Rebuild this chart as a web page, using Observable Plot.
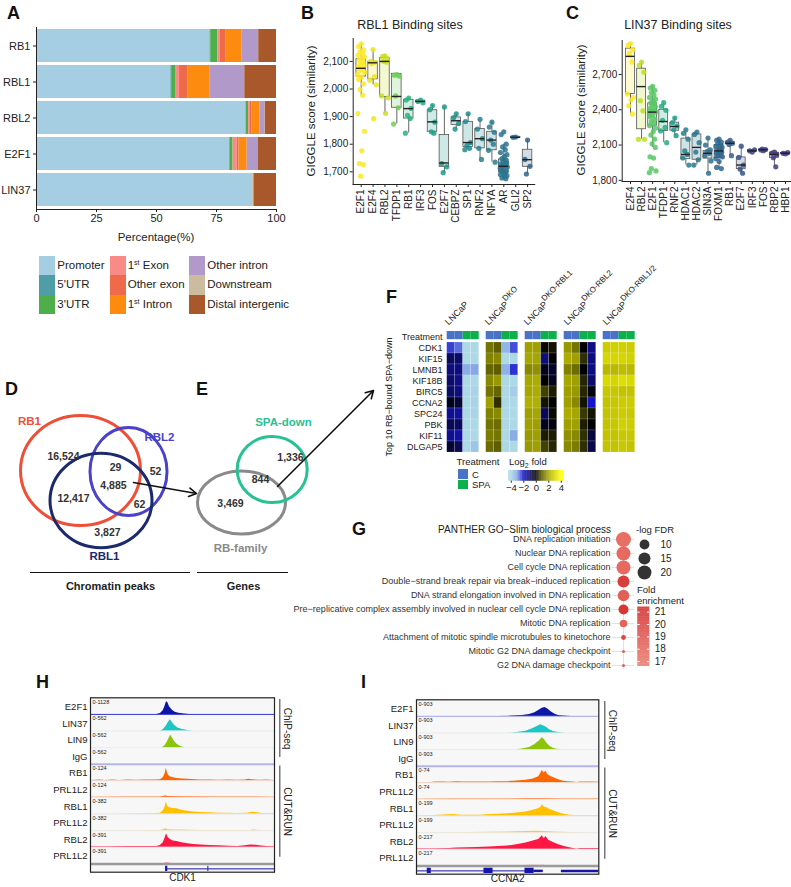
<!DOCTYPE html>
<html><head><meta charset="utf-8">
<script src="https://cdn.jsdelivr.net/npm/d3@7"></script>
<script src="https://cdn.jsdelivr.net/npm/@observablehq/plot@0.6"></script>
<style>
body{margin:0;background:#fff}
#fig{position:relative;width:791px;height:887px;overflow:hidden;font-family:"Liberation Sans",Arial,sans-serif;color:#222;background:#fff}
</style></head><body><div id="fig"></div>
<script>
// ---------------- DATA ----------------
// Panel A
const aSamples = ["RB1","RBL1","RBL2","E2F1","LIN37"];
const aFeatures = ["Promoter","5'UTR","3'UTR","1st Exon","Other exon","1st Intron","Other intron","Downstream","Distal intergenic"];
const pctRB1   = [72.3,0.3,3.0,0.9,2.5,6.7,6.9,0.0,7.4];
const pctRBL1  = [56.0,0.3,1.9,1.4,3.4,9.4,14.4,0.0,13.2];
const pctRBL2  = [87.3,0.2,0.9,0.5,0.8,3.3,2.2,0.1,4.7];
const pctE2F1  = [80.5,0.3,1.1,1.7,0.8,3.4,4.6,0.0,7.6];
const pctLIN37 = [90.3,0.0,0.0,0.0,0.0,0.4,0.0,0.0,9.3];
const aTicks = [0,25,50,75,100];

// Panel B
const bCats = ["E2F1","E2F4","RBL2","TFDP1","RB1","IRF3","FOS","E2F7","CEBPZ","SP1","RNF2","NFYA","AR","GLI2","SP2"];
const bPoints = [
  [2164,2154,2142,2134,2128,2122,2116,2110,2106,2098,2092,2086,2080,2074,2068,2061,2053,2043,2034,2019,1998,1977,1911,1847,1776,1730,1726,1684],
  [2143,2100,2097,2092,2045,2032,2015,1893],
  [2120,2117,2110,2100,2097,1975,1968,1912],
  [2052,2050,2047,1975,1932,1873],
  [1967,1960,1930,1905,1893,1840],
  [1960,1955,1950],
  [1940,1925,1880,1845,1840],
  [1935,1730,1718,1697],
  [1910,1896,1875,1855],
  [1910,1882,1806,1795,1785,1780],
  [1890,1855,1820,1785,1745],
  [1880,1862,1843,1815,1800,1778,1735],
  [1845,1835,1800,1790,1780,1770,1762,1755,1748,1742,1738,1732,1728,1724,1720,1717,1713,1710,1706,1702,1698,1694,1690,1686,1682,1678,1675],
  [1826,1825],
  [1815,1745,1720,1692]
];
const bQ1  = [2045,2035,1971,1932,1893,1952,1845,1718,1870,1790,1785,1778,1697,1823,1718];
const bMed = [2075,2095,2100,1973,1929,1955,1881,1732,1885,1806,1820,1815,1720,1825,1744];
const bQ3  = [2108,2099,2113,2055,1961,1958,1923,1833,1897,1881,1855,1845,1745,1827,1780];
const bLo  = [1977,2015,1912,1873,1840,1950,1840,1697,1855,1780,1745,1735,1675,1825,1692];
const bHi  = [2164,2143,2120,2052,1967,1960,1940,1935,1910,1910,1890,1880,1800,1826,1815];
const bTicks = [1700,1800,1900,2000,2100];

// Panel C
const cCats = ["E2F4","RBL2","E2F1","TFDP1","RNF2","HDAC1","HDAC2","SIN3A","FOXM1","RB1","E2F7","IRF3","FOS","RBP2","HBP1"];
const cPoints = [
  [2963,2949,2911,2877,2806,2534,2506,2483,2434,2363],
  [2806,2777,2720,2477,2391,2149,2149],
  [2600,2585,2565,2545,2525,2505,2490,2475,2460,2450,2440,2425,2410,2400,2390,2380,2370,2355,2340,2320,2300,2280,2265,2245,2215,2185,2150,2110,2080,2000,1990,1900,1880,1865],
  [2460,2430,2395,2310,2250,2220,2120],
  [2330,2290,2262,2230,2180],
  [2230,2200,2150,2050,2020,1990,1930],
  [2210,2190,2120,2040,1975,1930],
  [2160,2100,2060,2045,2030,2010,1965,1860],
  [2150,2140,2125,2110,2100,2090,2080,2070,2060,2050,2045,2040,2030,2020,2010,2000,1985,1960,1910,1900],
  [2140,2125,2115,2105,2010],
  [2090,1995,1930,1895,1860],
  [2040,2050,2060],
  [2052,2058,2062,2066],
  [2040,2032,2020,1992,1915],
  [2025,2030,2035]
];
const cQ1  = [2534,2234,2265,2220,2222,1980,1975,1985,1990,2105,1895,2045,2055,1990,2027];
const cMed = [2854,2597,2380,2300,2258,2020,2080,2030,2050,2115,1930,2050,2060,2020,2030];
const cQ3  = [2920,2749,2455,2400,2290,2155,2190,2050,2100,2128,1995,2058,2063,2035,2033];
const cLo  = [2363,2149,2080,2120,2180,1930,1930,1860,1900,2010,1860,2040,2052,1915,2025];
const cHi  = [2963,2806,2600,2460,2330,2230,2210,2160,2150,2140,2090,2060,2066,2040,2035];
const cTicks = [1800,2100,2400,2700];

// Panel D / E (Venn)
const dSets = ["RB1","RBL2","RBL1"];
const dCounts = [16524,29,52,4885,12417,62,3827];
const eSets = ["RB-family","SPA-down"];
const eCounts = [3469,844,1336];
const deCaptions = ["Chromatin peaks","Genes"];

// Panel F (heatmap, log2 fold; columns C, C, SPA, SPA)
const fGroups = ["LNCaP","DKO","DKO-RBL1","DKO-RBL2","DKO-RBL1/2"];
const fGroupSup = ["","DKO","DKO-RBL1","DKO-RBL2","DKO-RBL1/2"];
const fGenes = ["CDK1","KIF15","LMNB1","KIF18B","BIRC5","CCNA2","SPC24","PBK","KIF11","DLGAP5"];
const fCols = ["C1","C2","SPA1","SPA2"];
const fTreat = ["C","C","SPA","SPA"];
const heatLNCaP = [[-2.3,-2.6,-4,-4],[-0.9,-1.0,-4,-4],[-1.2,-1.2,-3.1,-3.0],[-1.0,-1.3,-4,-4],[-1.0,-1.2,-4,-3.9],[-0.3,-0.5,-4,-3.9],[-1.4,-1.5,-4,-3.9],[-0.8,-0.9,-4,-4],[-1.4,-1.6,-4,-4],[-0.5,-0.8,-4,-3.6]];
const heatDKO = [[1.3,1.0,-3.3,-2.4],[1.5,1.6,-4,-4],[1.1,1.0,-3.2,-2.2],[1.6,1.8,-4,-4],[1.3,1.1,-4,-3.8],[1.9,0.5,-4,-4],[1.5,1.6,-4,-4],[1.3,1.2,-4,-4],[1.4,1.3,-4,-3.1],[1.2,1.0,-4,-4]];
const heatDKO_RBL1 = [[1.9,1.9,0.1,0.2],[2.0,2.0,-1.2,0],[1.6,1.7,-0.3,-0.4],[2.0,2.1,0,-0.3],[2.0,2.1,0.7,0.3],[2.2,2.2,0.2,0],[1.9,2.0,-0.8,0.1],[1.9,1.9,-0.3,-0.2],[1.8,1.9,0.3,0.3],[1.8,1.9,0.7,0.4]];
const heatDKO_RBL2 = [[1.8,1.3,0,-1.3],[2.1,1.9,0.5,-1.2],[1.5,1.2,0,-1.2],[2.0,1.9,0.4,-1.0],[1.9,1.8,0.4,-0.2],[1.9,1.6,0.2,-2.0],[2.1,2.0,0.6,0.2],[1.9,1.9,0.3,0],[1.7,1.6,0.5,-0.6],[1.6,1.4,0.5,-0.7]];
const heatDKO_RBL12 = [[2.8,2.9,2.9,2.8],[3.0,3.0,3.0,2.9],[2.4,2.4,2.5,2.4],[3.1,3.0,3.2,3.1],[2.7,2.7,2.6,2.6],[2.6,2.7,2.8,2.8],[2.6,2.7,2.8,2.7],[2.6,2.7,2.9,2.8],[2.6,2.6,2.7,2.7],[2.6,2.6,2.7,2.6]];
const fLegendTicks = [-4,-2,0,2,4];

// Panel G
const gTitle = "PANTHER GO\u2212Slim biological process";
const gTerms = ["DNA replication initiation","Nuclear DNA replication","Cell cycle DNA replication",
  "Double\u2212strand break repair via break\u2212induced replication","DNA strand elongation involved in DNA replication",
  "Pre\u2212replicative complex assembly involved in nuclear cell cycle DNA replication","Mitotic DNA replication",
  "Attachment of mitotic spindle microtubules to kinetochore","Mitotic G2 DNA damage checkpoint","G2 DNA damage checkpoint"];
const gNegLogFDR = [23.4,20.4,20.4,15,14,10.4,6,2.4,0.95,0.95];
const gFold = [17.3,17.6,17.6,20.2,18.2,20.6,18.0,19.6,18.3,18.3];
const gSizeBreaks = [10,15,20];
const gFoldTicks = [17,18,19,20,21];

// Panels H / I (genome tracks, [position %, relative signal])
const trackNames = ["E2F1","LIN37","LIN9","IgG","RB1","PRL1L2","RBL1","PRL1L2","RBL2","PRL1L2"];
const hRanges = ["0-1128","0-562","0-562","0-562","0-124","0-124","0-382","0-382","0-391","0-391"];
const iRanges = ["0-903","0-903","0-903","0-903","0-74","0-74","0-199","0-199","0-217","0-217"];
const assays = [{label:"ChIP-seq",first:0,last:3},{label:"CUT&RUN",first:4,last:9}];
const hGene = "CDK1", iGene = "CCNA2";
const hE2F1 = [[0,0],[36,0],[38,0.06],[39.5,0.25],[40.5,0.55],[41.3,0.85],[42,0.8],[43,0.5],[44.5,0.28],[46,0.14],[48,0.07],[51,0.03],[54,0],[100,0]];
const hLIN37 = [[0,0],[38,0],[39.5,0.08],[41,0.3],[42.5,0.6],[43.3,0.75],[44.2,0.62],[45.5,0.4],[47.5,0.2],[50,0.1],[53,0.04],[56,0],[100,0]];
const hLIN9 = [[0,0],[39,0],[40.5,0.12],[41.8,0.4],[43,0.7],[43.6,0.82],[44.4,0.68],[45.5,0.45],[47,0.22],[49,0.08],[51,0],[100,0]];
const hIgG = [[0,0],[100,0]];
const hRB1 = [[0,0.03],[5,0.05],[8,0.02],[12,0.05],[16,0.03],[20,0.05],[25,0.04],[30,0.06],[35,0.05],[38,0.08],[39.5,0.2],[40.5,0.45],[41.2,0.85],[41.8,0.55],[42.5,0.35],[43.5,0.25],[45,0.2],[47,0.15],[50,0.12],[53,0.1],[57,0.08],[60,0.06],[65,0.05],[70,0.04],[75,0.05],[80,0.04],[84,0.05],[86,0.1],[88,0.07],[92,0.04],[96,0.05],[100,0.03]];
const hPRL1 = [[0,0.02],[20,0.03],[38,0.03],[40,0.08],[41,0.12],[42,0.06],[50,0.04],[70,0.03],[100,0.02]];
const hRBL1 = [[0,0.01],[20,0.02],[35,0.03],[38,0.06],[39.5,0.2],[40.5,0.45],[41.2,0.8],[42,0.5],[43,0.42],[45,0.38],[47,0.35],[49,0.28],[52,0.2],[56,0.14],[60,0.1],[65,0.08],[70,0.06],[75,0.05],[80,0.04],[85,0.06],[88,0.12],[90,0.1],[93,0.04],[100,0.03]];
const hPRL2 = [[0,0],[38,0.02],[40,0.08],[41,0.15],[42,0.07],[45,0.05],[50,0.04],[60,0.02],[87,0.02],[89,0.06],[91,0.02],[100,0]];
const hRBL2 = [[0,0.03],[10,0.04],[20,0.05],[30,0.05],[36,0.06],[38,0.12],[39.5,0.3],[40.5,0.6],[41.3,0.9],[42.2,0.65],[43.5,0.5],[45,0.42],[47,0.38],[49,0.32],[52,0.25],[56,0.18],[60,0.15],[65,0.12],[70,0.1],[75,0.07],[80,0.06],[84,0.1],[87,0.15],[90,0.14],[93,0.08],[96,0.05],[100,0.04]];
const hPRL3 = [[0,0],[40,0],[40.5,0.06],[42,0.08],[43.5,0.05],[44,0],[100,0]];
const iE2F1 = [[0,0],[45,0],[52,0.02],[58,0.06],[62,0.12],[65,0.25],[67,0.4],[69,0.55],[70.5,0.6],[72,0.5],[74,0.3],[76,0.15],[78,0.06],[81,0.02],[85,0],[100,0]];
const iLIN37 = [[0,0],[50,0],[55,0.04],[60,0.12],[63,0.25],[66,0.42],[68,0.55],[69,0.52],[71,0.4],[73,0.22],[75,0.1],[78,0.03],[82,0],[100,0]];
const iLIN9 = [[0,0],[55,0],[58,0.04],[62,0.15],[65,0.35],[67.5,0.6],[69,0.8],[70,0.7],[71.5,0.45],[73,0.25],[75,0.1],[77,0.02],[80,0],[100,0]];
const iIgG = [[0,0],[100,0]];
const iRB1 = [[0,0.02],[5,0.03],[8,0.02],[10,0.05],[15,0.06],[18,0.04],[22,0.08],[26,0.05],[30,0.06],[35,0.05],[40,0.06],[45,0.07],[50,0.08],[55,0.12],[60,0.18],[64,0.25],[67,0.4],[68,0.6],[69,0.85],[70,0.65],[71,0.8],[72,0.55],[74,0.4],[76,0.3],[78,0.2],[80,0.12],[83,0.08],[86,0.05],[88,0.02],[90,0.06],[94,0.05],[97,0.06],[100,0.04]];
const iPRL1 = [[0,0.02],[20,0.03],[40,0.03],[60,0.04],[70,0.05],[80,0.03],[100,0.03]];
const iRBL1 = [[0,0.02],[10,0.04],[20,0.1],[25,0.06],[30,0.05],[35,0.06],[40,0.1],[45,0.12],[50,0.15],[55,0.2],[60,0.28],[63,0.35],[66,0.45],[68,0.55],[69,0.75],[70,0.6],[71.5,0.55],[73,0.45],[75,0.35],[78,0.22],[81,0.12],[84,0.06],[88,0.04],[95,0.04],[100,0.03]];
const iPRL2 = [[0,0],[30,0.01],[50,0.04],[60,0.08],[65,0.1],[70,0.08],[75,0.04],[85,0.01],[100,0]];
const iRBL2 = [[0,0.03],[10,0.04],[18,0.06],[22,0.08],[28,0.1],[33,0.12],[40,0.15],[45,0.18],[50,0.22],[55,0.3],[60,0.42],[64,0.55],[67,0.65],[69,0.9],[70,0.7],[71,0.85],[72.5,0.6],[75,0.45],[78,0.3],[81,0.18],[84,0.1],[86,0.05],[88,0.02],[90,0.06],[95,0.06],[100,0.05]];
const iPRL3 = [[0,0],[44,0],[45,0.03],[50,0.03],[51,0],[60,0],[61,0.04],[70,0.04],[71,0],[100,0]];
const hGeneSpans = [[40.8,100]], hThick = [], hExons = [[40.8,42],[63.8,64.3]];
const iGeneSpans = [[0,69.5],[79.5,100]], iThick = [[64.5,69.5],[79.5,100]], iExons = [[5.9,8.1],[37,42],[59.5,64.5]];

// ---------------- STYLE / LAYOUT ----------------
const FONT = '"Liberation Sans", Arial, Helvetica, sans-serif';
const ps = {background:"none", overflow:"visible", fontFamily:FONT, color:"#222", maxWidth:"none"};
const aColors = ["#a6cee3","#4f9da6","#4dae4a","#f98b86","#ee6a4b","#fd8b10","#b199c9","#cdbb9f","#a9582b"];
const bColorT = [1.0,0.97,0.92,0.78,0.64,0.61,0.57,0.54,0.51,0.48,0.45,0.42,0.38,0.35,0.31];
const cColorT = [1.0,0.9,0.74,0.62,0.55,0.43,0.39,0.36,0.33,0.29,0.25,0.21,0.19,0.17,0.16];
const jit = [0,-0.22,0.2,-0.1,0.12,-0.28,0.27,0.05,-0.16,0.17,-0.05,0.24,-0.24,0.08,-0.12,0.3,-0.3];
const heatColor = {type:"linear", domain:[-4,-3,-2,-1,0,1,2,3,4],
  range:["#add8e6","#86a8e6","#1414cc","#0b0b6a","#000000","#5e5e00","#a6a600","#d6d600","#ffff00"], clamp:true};
const treatColors = {C:"#4a73c8", SPA:"#0db14b"};
const gColor = {type:"linear", domain:[16.6,21.4], range:["#eb7b6e","#d22a2a"], clamp:true};
const gR = {type:"sqrt", domain:[0,26.6], range:[0,8]};
const trackColors = ["#0b16a5","#1cc6c6","#8cc40c","#999999","#ff6600","#ff7a2e","#ffc000","#ffca3a","#ff1744","#ff8aa0"];

const fig = document.getElementById("fig");
function put(el, left, top){ el.style.position="absolute"; el.style.left=left+"px"; el.style.top=top+"px"; fig.appendChild(el); return el; }
function label(html, x, y, o={}) {
  const d = document.createElement("div");
  d.innerHTML = html;
  const ax = o.anchor || "start";
  const tx = ax==="middle" ? "-50%" : ax==="end" ? "-100%" : "0";
  d.style.cssText = `position:absolute;white-space:nowrap;line-height:1;left:${x}px;top:${y}px;font-size:${o.size||10}px;font-weight:${o.bold?"bold":"normal"};color:${o.color||"#222"};transform:translate(${tx},-50%)${o.rotate?` rotate(${o.rotate}deg)`:""};`;
  fig.appendChild(d); return d;
}
function box(x, y, w, h, color){ const d=document.createElement("div"); d.style.cssText=`position:absolute;left:${x}px;top:${y}px;width:${w}px;height:${h}px;background:${color}`; fig.appendChild(d); }

// ---------------- PANEL A ----------------
const aPct = [pctRB1,pctRBL1,pctRBL2,pctE2F1,pctLIN37];
const aRows = aSamples.flatMap((s,i)=>aFeatures.map((f,j)=>({sample:s, feature:f, pct:aPct[i][j]})));
put(Plot.plot({
  width:290, height:250, marginLeft:36, marginRight:14, marginTop:27, marginBottom:41, style:ps,
  x:{domain:[0,100], axis:null},
  y:{domain:aSamples, paddingInner:0.08, paddingOuter:0.01, axis:null},
  color:{domain:aFeatures, range:aColors},
  marks:[
    Plot.barX(aRows, Plot.stackX({x:"pct", y:"sample", fill:"feature", order:aFeatures})),
    Plot.frame({anchor:"left", stroke:"#222"}),
    Plot.frame({anchor:"bottom", stroke:"#222"}),
    Plot.axisX({ticks:aTicks, tickSize:3, tickPadding:2, fontSize:11, label:null}),
    Plot.axisY({tickSize:3, tickPadding:3, fontSize:11, label:null})
  ]
}), 0, 0);
label("Percentage(%)", 156, 238, {anchor:"middle", size:11.5});
const aLegCols = [[39.3,57.3],[110,127.7],[189.3,207.3]];
aFeatures.forEach((f,k)=>{
  const col = Math.floor(k/3), row = k%3;
  box(aLegCols[col][0], 255.5+row*19.5, 16, 19.5, aColors[k]);
  label(f.replace("1st","1<sup style='font-size:7px;vertical-align:4px;line-height:0'>st</sup>"), aLegCols[col][1], 265.5+row*19.5, {size:11.5});
});

// ---------------- PANELS B, C ----------------
function boxPlot(o){
  const colors = o.colorT.map(t=>d3.interpolateViridis(t));
  const boxes = o.cats.map((c,i)=>({i, q1:o.q1[i], med:o.med[i], q3:o.q3[i], lo:o.lo[i], hi:o.hi[i], color:colors[i]}));
  const pts = o.cats.flatMap((c,i)=>o.pts[i].map((v,j)=>({x:i+jit[j%jit.length], v, color:colors[i]})));
  return Plot.plot({
    width:o.width, height:o.height, marginLeft:o.ml, marginRight:o.mr, marginTop:o.mt, marginBottom:o.mb, style:ps,
    x:{domain:o.xDomain, axis:null}, y:{domain:o.yDomain, axis:null}, color:{type:"identity"},
    marks:[
      Plot.rect(boxes,{x1:d=>d.i-0.4, x2:d=>d.i+0.4, y1:"q1", y2:"q3", fill:"color", fillOpacity:0.22}),
      Plot.ruleX(boxes,{x:"i", y1:"lo", y2:"q1", stroke:"#666"}),
      Plot.ruleX(boxes,{x:"i", y1:"q3", y2:"hi", stroke:"#666"}),
      Plot.rect(boxes,{x1:d=>d.i-0.4, x2:d=>d.i+0.4, y1:"q1", y2:"q3", fill:"none", stroke:"#555", strokeWidth:0.8}),
      Plot.dot(pts,{x:"x", y:"v", r:2.6, fill:"color", fillOpacity:0.85}),
      Plot.ruleY(boxes,{y:"med", x1:d=>d.i-0.4, x2:d=>d.i+0.4, stroke:"#222", strokeWidth:1.4}),
      Plot.frame({anchor:"left", stroke:"#222"}),
      Plot.frame({anchor:"bottom", stroke:"#222"}),
      Plot.axisY({ticks:o.ticks, tickFormat:d3.format(","), tickSize:3, tickPadding:2, fontSize:10, label:null}),
      Plot.axisX({ticks:o.cats.map((c,i)=>i), tickFormat:i=>o.cats[i], tickRotate:-90, tickSize:3, tickPadding:2, fontSize:10, label:null})
    ]
  });
}
put(boxPlot({cats:bCats, pts:bPoints, q1:bQ1, med:bMed, q3:bQ3, lo:bLo, hi:bHi, colorT:bColorT, ticks:bTicks,
  width:260, height:240, ml:72.7, mr:5.8, mt:38, mb:56, xDomain:[-0.673,14.6], yDomain:[1654,2183]}), 280, 0);
put(boxPlot({cats:cCats, pts:cPoints, q1:cQ1, med:cMed, q3:cQ3, lo:cLo, hi:cHi, colorT:cColorT, ticks:cTicks,
  width:261, height:240, ml:91.7, mr:1, mt:40, mb:59, xDomain:[-0.75,14.45], yDomain:[1790,2989]}), 530, 0);
label("RBL1 Binding sites", 410, 25, {anchor:"middle", size:12.5});
label("LIN37 Binding sites", 678, 25, {anchor:"middle", size:12.5});
label("GIGGLE score (similarity)", 311.7, 111, {anchor:"middle", size:11.5, rotate:-90});
label("GIGGLE score (similarity)", 581.7, 110, {anchor:"middle", size:11.5, rotate:-90});

// ---------------- PANELS D, E ----------------
function ellipseSymbol(aspect){
  return {draw(ctx, size){
    const rx=Math.sqrt(size/Math.PI), ry=rx*aspect, k=0.5523;
    ctx.moveTo(rx,0);
    ctx.bezierCurveTo(rx,ry*k,rx*k,ry,0,ry);
    ctx.bezierCurveTo(-rx*k,ry,-rx,ry*k,-rx,0);
    ctx.bezierCurveTo(-rx,-ry*k,-rx*k,-ry,0,-ry);
    ctx.bezierCurveTo(rx*k,-ry,rx,-ry*k,rx,0);
    ctx.closePath();
  }};
}
const dLayout = [{cx:80,cy:470,rx:60,ry:55,color:"#f04e37",lx:29,ly:421},{cx:128,cy:471,rx:38.5,ry:44,color:"#4a43c8",lx:159,ly:437},{cx:100.5,cy:500,rx:51,ry:47.3,color:"#1b2a6b",lx:104,ly:556}];
const dCountPos = [[63,456],[115,467],[155,471],[113,485],[73,498],[139,504],[107,532]];
const eLayout = [{cx:241,cy:502,rx:44,ry:31.5,color:"#8a8a8a",lx:240,ly:548},{cx:271.7,cy:469,rx:35,ry:33,color:"#27c294",lx:283,ly:422}];
const eCountPos = [[230,503],[260,479],[290,457]];
const arrowLayout = [{x1:133,y1:482,x2:196,y2:493},{x1:277,y1:486,x2:373,y2:390}];
const captionLayout = [{x1:30,x2:190,y:572,cx:110,ty:586},{x1:197,x2:288,y:572,cx:243,ty:586}];
const fmt = d3.format(",");
put(Plot.plot({
  width:400, height:600, margin:0, style:ps,
  x:{type:"identity", axis:null}, y:{type:"identity", axis:null},
  marks:[
    ...dLayout.map(e=>Plot.dot([e],{x:"cx", y:"cy", r:e.rx, symbol:ellipseSymbol(e.ry/e.rx), stroke:e.color, strokeWidth:3, fill:"none"})),
    ...eLayout.map(e=>Plot.dot([e],{x:"cx", y:"cy", r:e.rx, symbol:ellipseSymbol(e.ry/e.rx), stroke:e.color, strokeWidth:3, fill:"none"})),
    Plot.text(dSets,{x:(d,i)=>dLayout[i].lx, y:(d,i)=>dLayout[i].ly, text:d=>d, fill:(d,i)=>dLayout[i].color, fontWeight:"bold", fontSize:11.5}),
    Plot.text(eSets,{x:(d,i)=>eLayout[i].lx, y:(d,i)=>eLayout[i].ly, text:d=>d, fill:(d,i)=>eLayout[i].color, fontWeight:"bold", fontSize:11.5}),
    Plot.text(dCounts,{x:(d,i)=>dCountPos[i][0], y:(d,i)=>dCountPos[i][1], text:d=>fmt(d), fill:"#333", fontWeight:"bold", fontSize:10.5}),
    Plot.text(eCounts,{x:(d,i)=>eCountPos[i][0], y:(d,i)=>eCountPos[i][1], text:d=>fmt(d), fill:"#333", fontWeight:"bold", fontSize:10.5}),
    Plot.arrow(arrowLayout,{x1:"x1", y1:"y1", x2:"x2", y2:"y2", stroke:"#111", strokeWidth:1.6, headLength:8}),
    Plot.ruleY(captionLayout,{y:"y", x1:"x1", x2:"x2", stroke:"#111", strokeWidth:1.2}),
    Plot.text(deCaptions,{x:(d,i)=>captionLayout[i].cx, y:(d,i)=>captionLayout[i].ty, text:d=>d, fontWeight:"bold", fontSize:11})
  ]
}), 0, 0);

// ---------------- PANEL F ----------------
const heatAll = [heatLNCaP, heatDKO, heatDKO_RBL1, heatDKO_RBL2, heatDKO_RBL12];
const heatRows = [];
heatAll.forEach((mat,gi)=>mat.forEach((row,ri)=>row.forEach((v,ci)=>heatRows.push({group:fGroups[gi], gene:fGenes[ri], col:fCols[ci], v}))));
put(Plot.plot({
  width:260, height:160, marginLeft:59.3, marginRight:7.3, marginTop:29, marginBottom:7, style:ps,
  fx:{domain:fGroups, paddingInner:0.09, paddingOuter:0, axis:null},
  x:{domain:fCols, padding:0, axis:null},
  y:{domain:["Treatment",...fGenes], padding:0, axis:null},
  color:heatColor,
  marks:[
    Plot.cell(heatRows,{fx:"group", x:"col", y:"gene", fill:"v", stroke:"#fff", strokeOpacity:0.3, strokeWidth:0.5}),
    Plot.cell(fCols.filter((c,i)=>fTreat[i]==="C"),{x:d=>d, y:()=>"Treatment", fill:treatColors.C, insetBottom:2.8}),
    Plot.cell(fCols.filter((c,i)=>fTreat[i]==="SPA"),{x:d=>d, y:()=>"Treatment", fill:treatColors.SPA, insetBottom:2.8}),
    Plot.axisY({tickSize:0, tickPadding:3, fontSize:9, label:null})
  ]
}), 385, 300);
label("Top 10 RB\u2212bound SPA\u2212down", 389, 397, {anchor:"middle", size:9, rotate:-90});
fGroups.forEach((g,k)=>{
  const d = document.createElement("div");
  d.innerHTML = "LNCaP" + (fGroupSup[k] ? `<sup style="font-size:8px;line-height:0;vertical-align:5px">${fGroupSup[k]}</sup>` : "");
  const x = 444.3 + k*39.4 + 6, y = 327;
  d.style.cssText = `position:absolute;white-space:nowrap;font-size:9px;line-height:10px;left:${x}px;top:${y-10}px;transform-origin:0 100%;transform:rotate(-45deg);color:#222`;
  fig.appendChild(d);
});
label("Treatment", 478, 462, {anchor:"middle", size:9.5});
box(458.3, 469.3, 9.4, 9.5, treatColors.C);
box(458.3, 479.5, 9.4, 9.5, treatColors.SPA);
label("C", 472, 474.5, {size:9.5});
label("SPA", 472, 485, {size:9.5});
label("Log<sub style='font-size:7px;line-height:0'>2</sub> fold", 509, 462, {size:9.5});
const fRamp = d3.range(-4.4, 4.4, 0.1);
put(Plot.plot({
  width:70, height:30, marginLeft:8.3, marginRight:6.7, marginTop:4, marginBottom:15.3, style:ps,
  x:{domain:[-4.4,4.4], axis:null}, y:{domain:[0,1], axis:null}, color:heatColor,
  marks:[
    Plot.rect(fRamp,{x1:d=>d, x2:d=>d+0.12, y1:0, y2:1, fill:d=>d+0.05}),
    Plot.axisX({ticks:fLegendTicks, tickSize:2, tickPadding:1, fontSize:9.5, label:null})
  ]
}), 500, 466);

// ---------------- PANEL G ----------------
const gRows = gTerms.map((t,i)=>({term:t, fdr:gNegLogFDR[i], fold:gFold[i]}));
put(Plot.plot({
  width:400, height:150, marginLeft:372, marginRight:6, marginTop:7, marginBottom:9, style:ps,
  x:{domain:[0,1], axis:null}, y:{domain:gTerms, padding:0, axis:null},
  r:gR, color:gColor,
  marks:[
    Plot.gridY({stroke:"#e2e2e2", strokeOpacity:1}),
    Plot.ruleX([0.5],{stroke:"#e2e2e2"}),
    Plot.axisY({tickSize:0, tickPadding:2, fontSize:9, fill:"#333", label:null}),
    Plot.dot(gRows,{y:"term", r:"fdr", fill:"fold"})
  ]
}), 240, 528);
label(gTitle, 611, 530, {anchor:"end", size:10});
label("-log FDR", 655, 529.5, {anchor:"middle", size:9.5});
put(Plot.plot({
  width:50, height:45, marginLeft:14, marginRight:20, marginTop:8.3, marginBottom:8, style:ps,
  x:{domain:[0,1], axis:null}, y:{type:"point", domain:gSizeBreaks, padding:0, axis:null}, r:gR,
  marks:[
    Plot.dot(gSizeBreaks,{x:0, y:d=>d, r:d=>d, fill:"#333"}),
    Plot.text(gSizeBreaks,{x:1, y:d=>d, text:d=>String(d), textAnchor:"start", fontSize:10})
  ]
}), 630, 535);
label("Fold", 637, 590, {size:9.5});
label("enrichment", 637, 601, {size:9.5});
const gRamp = d3.range(16.6, 21.4, 0.05);
put(Plot.plot({
  width:55, height:72, marginLeft:12.3, marginRight:30.7, marginTop:6.7, marginBottom:6, style:ps,
  x:{domain:[0,1], axis:null}, y:{domain:[16.6,21.4], axis:null}, color:gColor,
  marks:[
    Plot.rect(gRamp,{x1:0, x2:1, y1:d=>d, y2:d=>d+0.06, fill:d=>d+0.025}),
    Plot.ruleY(gFoldTicks,{x1:0, x2:0.2, stroke:"#fff"}),
    Plot.ruleY(gFoldTicks,{x1:0.8, x2:1, stroke:"#fff"}),
    Plot.axisY({anchor:"right", ticks:gFoldTicks, tickFormat:d=>String(d), tickSize:0, tickPadding:5, fontSize:10, label:null})
  ]
}), 625, 600);

// ---------------- PANELS H, I ----------------
function trackPlot(o){
  const idx = trackNames.map((_,i)=>i);
  const sig = o.signals.flatMap((s,t)=>s.map(([x,v])=>({t,x,v})));
  return Plot.plot({
    width:o.width, height:o.height, marginLeft:o.ml, marginRight:o.mr, marginTop:o.mt, marginBottom:o.mb, style:ps,
    x:{domain:[0,100], axis:null}, y:{domain:[0,10.5], reverse:true, axis:null}, color:{type:"identity"},
    marks:[
      Plot.rect(idx,{x1:0, x2:100, y1:i=>i, y2:i=>i+1, fill:"#f7f7f7"}),
      Plot.rect([0],{x1:0, x2:100, y1:10, y2:10.5, fill:"#f7f7f7"}),
      Plot.area(sig,{x1:"x", y1:d=>d.t+1, y2:d=>d.t+1-d.v*0.9, z:"t", fill:d=>trackColors[d.t], curve:"linear"}),
      Plot.ruleY(idx,{y:i=>i+1, stroke:i=>o.sepColors[i], strokeWidth:i=>o.sepWidths[i]}),
      Plot.ruleY([10],{stroke:"#9a9a9a", strokeWidth:2.5}),
      Plot.ruleY(o.geneSpans,{y:10.3, x1:d=>d[0], x2:d=>d[1], stroke:"#1616a6", strokeWidth:1}),
      Plot.ruleY(o.thick,{y:10.3, x1:d=>d[0], x2:d=>d[1], stroke:"#1616a6", strokeWidth:2.5}),
      Plot.rect(o.exons,{x1:d=>d[0], x2:d=>d[1], y1:10.14, y2:10.46, fill:"#1616a6"}),
      Plot.frame({stroke:"#222", strokeWidth:1.2}),
      Plot.text(idx,{x:0, y:i=>i+0.55, text:i=>trackNames[i], textAnchor:"end", dx:-3, fontSize:9.5}),
      Plot.text(idx,{x:0, y:i=>i+0.25, text:i=>o.ranges[i], textAnchor:"start", dx:2, fontSize:5.5}),
      Plot.ruleX(assays,{x:100, dx:o.bdx, y1:d=>d.first+0.1, y2:d=>d.last+0.6, stroke:"#555", strokeWidth:1.2}),
      Plot.text(assays,{x:100, dx:o.bdx+7, y:d=>(d.first+d.last+0.7)/2, text:"label", rotate:90, fontSize:10}),
      Plot.text([o.gene],{frameAnchor:"bottom", dy:o.gdy, text:d=>d, fontSize:10})
    ]
  });
}
const sepBase = ["#e0e0e0","#e0e0e0","#e0e0e0","#b4b4ee","#e0e0e0","#e0e0e0","#e0e0e0","#e0e0e0","#e0e0e0","#e0e0e0"];
put(trackPlot({signals:[hE2F1,hLIN37,hLIN9,hIgG,hRB1,hPRL1,hRBL1,hPRL2,hRBL2,hPRL3], ranges:hRanges, gene:hGene,
  sepColors:["#3434d4",...sepBase.slice(1)], sepWidths:[1,0.6,0.6,2,0.6,0.6,0.6,0.6,0.6,0.6],
  geneSpans:hGeneSpans, thick:hThick, exons:hExons,
  width:300, height:197, ml:90, mr:26, mt:7.3, mb:15.3, bdx:5.3, gdy:9}), 0, 690);
put(trackPlot({signals:[iE2F1,iLIN37,iLIN9,iIgG,iRB1,iPRL1,iRBL1,iPRL2,iRBL2,iPRL3], ranges:iRanges, gene:iGene,
  sepColors:["#b4b4ee",...sepBase.slice(1)], sepWidths:[1.2,0.6,0.6,2,0.6,0.6,0.6,0.6,0.6,0.6],
  geneSpans:iGeneSpans, thick:iThick, exons:iExons,
  width:300, height:197, ml:86, mr:31.7, mt:9.3, mb:13.3, bdx:6, gdy:8}), 330, 690);

// ---------------- PANEL LETTERS ----------------
[["A",7,13],["B",301,13],["C",566,13],["D",5,389],["E",196,389],["F",386,297],["G",352,529],["H",36,682],["I",361,682]]
  .forEach(([t,x,y])=>label(t, x, y, {size:18, bold:true, color:"#111"}));
</script></body></html>
